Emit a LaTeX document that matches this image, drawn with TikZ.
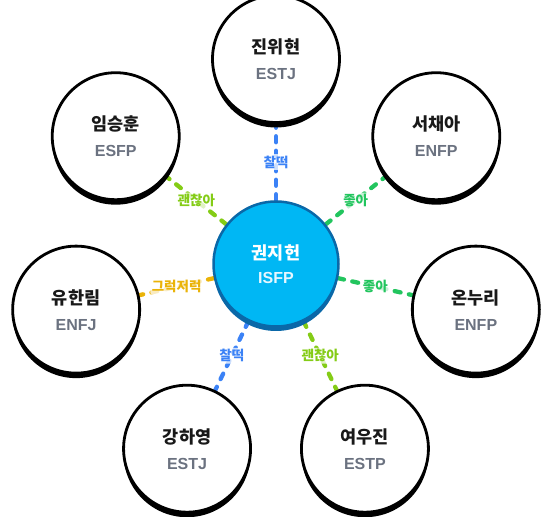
\documentclass[tikz,border=0pt]{standalone}
\usepackage{fontspec}
\setmainfont{Noto Sans CJK KR}
\newfontfamily\latinfont{Liberation Sans}
\usetikzlibrary{shadows,backgrounds,calc}
\definecolor{cblue}{HTML}{3B82F6}
\definecolor{cgreen}{HTML}{22C55E}
\definecolor{clime}{HTML}{84CC16}
\definecolor{camber}{HTML}{EAB308}
\definecolor{cfill}{HTML}{00B7F4}
\definecolor{cborder}{HTML}{0A68A8}
\definecolor{cgray}{HTML}{6B7280}
\definecolor{cpale}{HTML}{E6F7FF}
\tikzset{
  personbox/.style={circle, draw=black, fill=white, line width=2.8pt, minimum size=127pt, inner sep=0pt,
    drop shadow={shadow xshift=0pt, shadow yshift=-5pt, fill=black, opacity=1}},
  centerbox/.style={circle, draw=cborder, fill=cfill, line width=2.5pt, minimum size=125pt, inner sep=0pt,
    drop shadow={shadow xshift=0pt, shadow yshift=-4.5pt, fill=cborder, opacity=1}},
  nametext/.style={font=\fontsize{17.5}{20}\selectfont\bfseries, text=black!90, inner sep=0pt},
  typetext/.style={font=\latinfont\fontsize{16}{18}\selectfont\bfseries, text=cgray, inner sep=0pt},
  cnametext/.style={font=\fontsize{17.5}{20}\selectfont\bfseries, text=white, inner sep=0pt},
  ctypetext/.style={font=\latinfont\fontsize{16}{18}\selectfont\bfseries, text=cpale, inner sep=0pt},
  link/.style={line width=4.3pt, line cap=round, dash pattern=on 6pt off 8.5pt},
  linklabel/.style={midway, font=\fontsize{13.5}{15}\selectfont\bfseries, fill=white, fill opacity=0.75, text opacity=1, inner sep=1.5pt, rounded corners=2pt},
}
\begin{document}
\begin{tikzpicture}[x=1pt,y=1pt]
\useasboundingbox (0,0) rectangle (558,517);
\coordinate (o) at (276,253);
\node[centerbox] (c) at (o) {};
\node[cnametext] (cname) at ($(c)+(0,11)$) {권지헌};
\node[ctypetext] (ctype) at ($(c)+(0,-14)$) {ISFP};

\node[personbox] (n1) at ($(o)+(90:205)$) {};
\node[personbox] (n2) at ($(o)+(141.43:205)$) {};
\node[personbox] (n3) at ($(o)+(192.86:205)$) {};
\node[personbox] (n4) at ($(o)+(244.29:205)$) {};
\node[personbox] (n5) at ($(o)+(295.71:205)$) {};
\node[personbox] (n6) at ($(o)+(347.14:205)$) {};
\node[personbox] (n7) at ($(o)+(38.57:205)$) {};

\node[nametext] (m1) at ($(n1)+(0,12)$) {진위현};
\node[typetext] (t1) at ($(n1)+(0,-15)$) {ESTJ};
\node[nametext] (m2) at ($(n2)+(0,12)$) {임승훈};
\node[typetext] (t2) at ($(n2)+(0,-15)$) {ESFP};
\node[nametext] (m3) at ($(n3)+(0,12)$) {유한림};
\node[typetext] (t3) at ($(n3)+(0,-15)$) {ENFJ};
\node[nametext] (m4) at ($(n4)+(0,12)$) {강하영};
\node[typetext] (t4) at ($(n4)+(0,-15)$) {ESTJ};
\node[nametext] (m5) at ($(n5)+(0,12)$) {여우진};
\node[typetext] (t5) at ($(n5)+(0,-15)$) {ESTP};
\node[nametext] (m6) at ($(n6)+(0,12)$) {온누리};
\node[typetext] (t6) at ($(n6)+(0,-15)$) {ENFP};
\node[nametext] (m7) at ($(n7)+(0,12)$) {서채아};
\node[typetext] (t7) at ($(n7)+(0,-15)$) {ENFP};

\begin{scope}[on background layer]
\draw[link, cblue] (c) -- (n1) node[linklabel, text=cblue] (l1) {찰떡};
\draw[link, clime] (c) -- (n2) node[linklabel, text=clime] (l2) {괜찮아};
\draw[link, camber] (c) -- (n3) node[linklabel, text=camber] (l3) {그럭저럭};
\draw[link, cblue] (c) -- (n4) node[linklabel, text=cblue] (l4) {찰떡};
\draw[link, clime] (c) -- (n5) node[linklabel, text=clime] (l5) {괜찮아};
\draw[link, cgreen] (c) -- (n6) node[linklabel, text=cgreen] (l6) {좋아};
\draw[link, cgreen] (c) -- (n7) node[linklabel, text=cgreen] (l7) {좋아};
\end{scope}
\end{tikzpicture}
\end{document}
